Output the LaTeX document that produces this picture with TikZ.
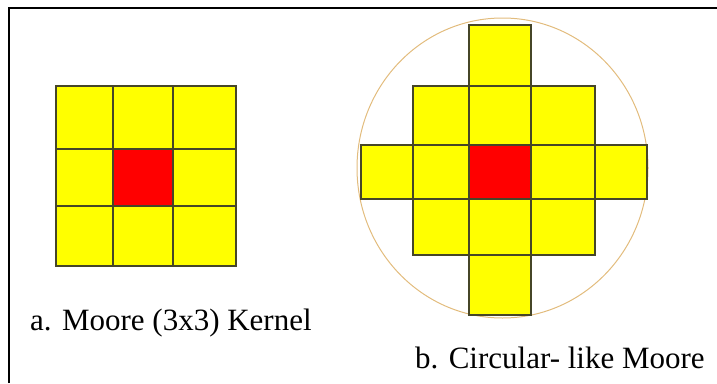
\documentclass[tikz,border=0pt]{standalone}
\usepackage{fontspec}
\setmainfont{LiberationSerif-Regular.ttf}
\usetikzlibrary{positioning}
\definecolor{cellyellow}{RGB}{255,255,0}
\definecolor{cellred}{RGB}{255,0,0}
\definecolor{gridline}{RGB}{70,70,40}
\definecolor{ringtan}{RGB}{226,188,125}

\begin{document}
\begin{tikzpicture}[
  x=1pt, y=-1pt,
  cell/.style={fill=cellyellow, draw=gridline, line width=1.3pt},
  centre/.style={fill=cellred, draw=gridline, line width=1.3pt},
  caption/.style={anchor=base west, inner sep=0pt, font=\fontsize{31}{36}\selectfont}
]
\useasboundingbox (0,0) rectangle (717,383);
% frame (open on the right and at the bottom)
\draw[line width=2.2pt] (9,383) -- (9,8) -- (717,8);

% a. Moore kernel, 3x3
\draw[cell] (56,86) rectangle (113,149);
\draw[cell] (113,86) rectangle (173,149);
\draw[cell] (173,86) rectangle (236,149);
\draw[cell] (56,149) rectangle (113,206);
\draw[centre] (113,149) rectangle (173,206);
\draw[cell] (173,149) rectangle (236,206);
\draw[cell] (56,206) rectangle (113,266);
\draw[cell] (113,206) rectangle (173,266);
\draw[cell] (173,206) rectangle (236,266);
\node[caption] (capa) at (30,330) {a. Moore (3x3) Kernel};

% b. circular-like Moore
\draw[ringtan, line width=1pt] (502.5,168) ellipse [x radius=145.5, y radius=150];
\draw[cell] (469,25) rectangle (531,86);
\draw[cell] (413,86) rectangle (469,145);
\draw[cell] (469,86) rectangle (531,145);
\draw[cell] (531,86) rectangle (595,145);
\draw[cell] (361,145) rectangle (413,199);
\draw[cell] (413,145) rectangle (469,199);
\draw[centre] (469,145) rectangle (531,199);
\draw[cell] (531,145) rectangle (595,199);
\draw[cell] (595,145) rectangle (647,199);
\draw[cell] (413,199) rectangle (469,255);
\draw[cell] (469,199) rectangle (531,255);
\draw[cell] (531,199) rectangle (595,255);
\draw[cell] (469,255) rectangle (531,315);
\node[caption] (capb) at (415,368) {b. Circular- like Moore};
\end{tikzpicture}
\end{document}
